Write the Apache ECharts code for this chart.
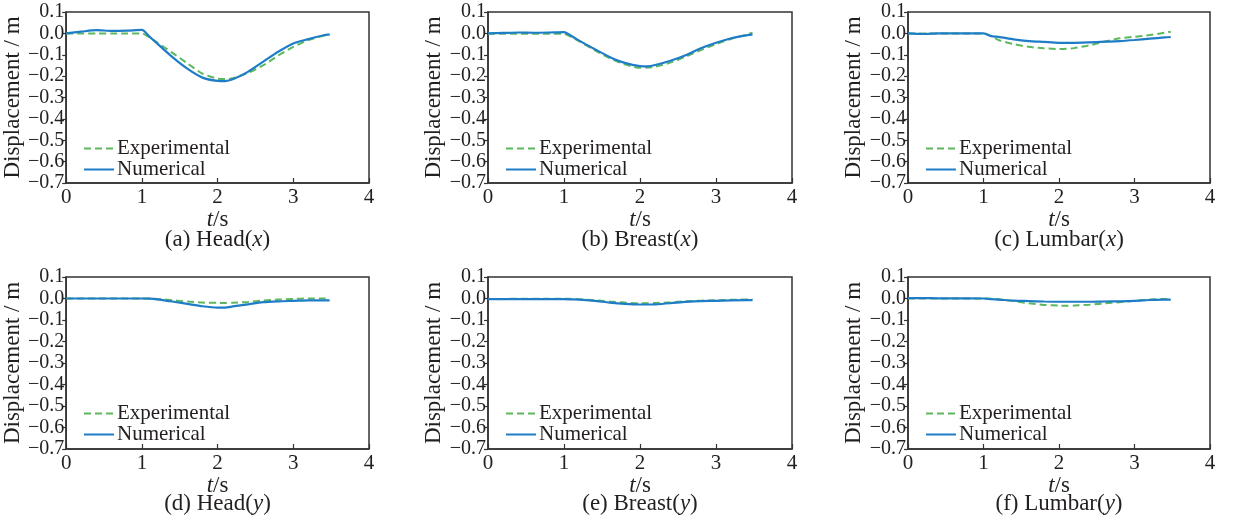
<!DOCTYPE html>
<html>
<head>
<meta charset="utf-8">
<script src="https://cdn.jsdelivr.net/npm/echarts@6/dist/echarts.min.js"></script>
<style>html,body{margin:0;padding:0;background:#fff;}#c{width:1236px;height:521px;}</style>
</head>
<body>
<div id="c"></div>
<script>
// Time samples (s)
const timeS = [0, 0.2, 0.4, 0.6, 0.8, 1.0, 1.1, 1.2, 1.4, 1.6, 1.8, 2.0, 2.1, 2.2, 2.4, 2.6, 2.8, 3.0, 3.2, 3.4, 3.48];

// Panel captions
const captions = ['(a) Head', '(b) Breast', '(c) Lumbar', '(d) Head', '(e) Breast', '(f) Lumbar'];
const captionAxis = ['x', 'x', 'x', 'y', 'y', 'y'];
const seriesNames = ['Experimental', 'Numerical'];
const xTicks = [0, 1, 2, 3, 4];
const yTicks = [0.1, 0.0, -0.1, -0.2, -0.3, -0.4, -0.5, -0.6, -0.7];

// Displacement (m)
const headX_exp   = [0, 0, 0, 0, 0, 0, -0.018, -0.042, -0.09, -0.14, -0.188, -0.212, -0.214, -0.21, -0.185, -0.15, -0.104, -0.063, -0.031, -0.011, -0.006];
const headX_num   = [0, 0.008, 0.015, 0.012, 0.013, 0.016, -0.015, -0.047, -0.11, -0.165, -0.207, -0.222, -0.223, -0.215, -0.18, -0.133, -0.086, -0.047, -0.027, -0.009, -0.005];
const breastX_exp = [-0.002, -0.002, -0.002, -0.002, -0.002, -0.002, -0.017, -0.037, -0.078, -0.116, -0.145, -0.161, -0.16, -0.156, -0.137, -0.109, -0.078, -0.05, -0.026, -0.006, 0.003];
const breastX_num = [0, 0.002, 0.004, 0.003, 0.004, 0.006, -0.012, -0.034, -0.073, -0.11, -0.138, -0.153, -0.154, -0.148, -0.128, -0.102, -0.07, -0.044, -0.023, -0.009, -0.006];
const lumbarX_exp = [0, 0, 0, 0, 0, 0, -0.012, -0.031, -0.05, -0.063, -0.07, -0.073, -0.072, -0.069, -0.056, -0.039, -0.023, -0.016, -0.008, 0.003, 0.008];
const lumbarX_num = [0, -0.003, 0, 0, 0, 0, -0.013, -0.016, -0.028, -0.036, -0.04, -0.044, -0.044, -0.044, -0.042, -0.039, -0.036, -0.031, -0.025, -0.019, -0.017];
const headY_exp   = [0, 0, 0, 0, 0, 0, 0, -0.002, -0.008, -0.014, -0.019, -0.02, -0.021, -0.02, -0.016, -0.009, -0.005, -0.002, 0, 0, 0];
const headY_num   = [0, 0, 0, 0, 0, 0, -0.001, -0.004, -0.014, -0.025, -0.036, -0.042, -0.042, -0.037, -0.027, -0.017, -0.013, -0.011, -0.009, -0.009, -0.009];
const breastY_exp = [-0.002, -0.002, -0.001, -0.001, -0.001, -0.001, -0.002, -0.003, -0.008, -0.014, -0.019, -0.022, -0.022, -0.021, -0.018, -0.013, -0.01, -0.008, -0.006, -0.004, -0.003];
const breastY_num = [-0.003, -0.003, -0.003, -0.003, -0.003, -0.003, -0.004, -0.005, -0.011, -0.019, -0.025, -0.028, -0.028, -0.027, -0.022, -0.016, -0.012, -0.011, -0.009, -0.008, -0.008];
const lumbarY_exp = [0, 0, 0, 0, 0, 0, -0.001, -0.003, -0.012, -0.022, -0.03, -0.033, -0.034, -0.033, -0.029, -0.023, -0.017, -0.011, -0.005, -0.002, -0.002];
const lumbarY_num = [0.002, 0.002, 0.001, 0.001, 0.001, 0.0, -0.003, -0.005, -0.01, -0.012, -0.014, -0.015, -0.015, -0.015, -0.015, -0.014, -0.013, -0.011, -0.007, -0.005, -0.005];

const panelData = [
  [headX_exp, headX_num], [breastX_exp, breastX_num], [lumbarX_exp, lumbarX_num],
  [headY_exp, headY_num], [breastY_exp, breastY_num], [lumbarY_exp, lumbarY_num]
];

const FONT = 'Liberation Serif';
const TXT = '#231f20';
const GREEN = '#5cb85c';
const BLUE = '#1f7dc8';

const lefts = [66, 488, 908];
const widths = [303, 304, 302];
const tops = [12, 277];
const heights = [171, 172];

const grids = [], xAxes = [], yAxes = [], series = [], legends = [], titles = [];
for (let p = 0; p < 6; p++) {
  const col = p % 3, row = Math.floor(p / 3);
  grids.push({left: lefts[col], top: tops[row], width: widths[col], height: heights[row],
    show: true, borderColor: '#333', borderWidth: 1.5, backgroundColor: 'transparent'});
  xAxes.push({type: 'value', gridIndex: p, min: xTicks[0], max: xTicks[xTicks.length-1], interval: 1,
    axisLine: {show: true, onZero: false, lineStyle: {color: '#333', width: 1.5}},
    axisTick: {show: true, inside: true, length: 5, lineStyle: {color: '#333', width: 1.2}},
    splitLine: {show: false},
    axisLabel: {fontFamily: FONT, fontSize: 21, color: TXT, margin: 4},
    name: '{i|t}/s', nameLocation: 'middle', nameGap: 20,
    nameTextStyle: {fontFamily: FONT, fontSize: 23, color: TXT,
      rich: {i: {fontFamily: FONT, fontStyle: 'italic', fontSize: 23, color: TXT}}}
  });
  yAxes.push({type: 'value', gridIndex: p, min: yTicks[yTicks.length-1], max: yTicks[0], interval: 0.1,
    axisLine: {show: true, onZero: false, lineStyle: {color: '#333', width: 1.5}},
    axisTick: {show: true, inside: false, length: 4, lineStyle: {color: '#333', width: 1.2}},
    splitLine: {show: false},
    axisLabel: {fontFamily: FONT, fontSize: 20, color: TXT, margin: 2,
      formatter: v => { const s = (Math.abs(v) < 1e-9 ? 0 : v).toFixed(1); return s.replace('-', '\u2212'); }},
    name: 'Displacement / m', nameLocation: 'middle', nameGap: 39,
    nameTextStyle: {fontFamily: FONT, fontSize: 23, color: TXT}
  });
  const [expV, numV] = panelData[p];
  series.push({name: seriesNames[0], type: 'line', xAxisIndex: p, yAxisIndex: p,
    data: timeS.map((t, i) => [t, expV[i]]), symbol: 'none', smooth: 0.25,
    lineStyle: {color: GREEN, width: 2, type: [7, 4]}, itemStyle: {color: GREEN}, z: 2});
  series.push({name: seriesNames[1], type: 'line', xAxisIndex: p, yAxisIndex: p,
    data: timeS.map((t, i) => [t, numV[i]]), symbol: 'none', smooth: 0.25,
    lineStyle: {color: BLUE, width: 2.2, type: 'solid'}, itemStyle: {color: BLUE}, z: 3});
  legends.push({left: lefts[col] + 17, top: row === 0 ? 138 : 403, orient: 'vertical',
    padding: 0, itemWidth: 30, itemHeight: 12, itemGap: 0, selectedMode: false,
    itemStyle: {opacity: 0},
    data: seriesNames,
    textStyle: {fontFamily: FONT, fontSize: 21, lineHeight: 21, color: TXT, padding: [0,0,0,-2]}});
  titles.push({text: captions[p] + '({i|' + captionAxis[p] + '})', left: lefts[col] + widths[col]/2,
    textAlign: 'center', top: row === 0 ? 228 : 492, padding: 0,
    textStyle: {fontFamily: FONT, fontSize: 23, fontWeight: 'normal', color: TXT,
      rich: {i: {fontFamily: FONT, fontStyle: 'italic', fontSize: 23, color: TXT}}}});
}

const chart = echarts.init(document.getElementById('c'), null, {renderer: 'canvas'});
chart.setOption({
  animation: false,
  backgroundColor: '#ffffff',
  grid: grids, xAxis: xAxes, yAxis: yAxes, series: series, legend: legends, title: titles
});
</script>
</body>
</html>
